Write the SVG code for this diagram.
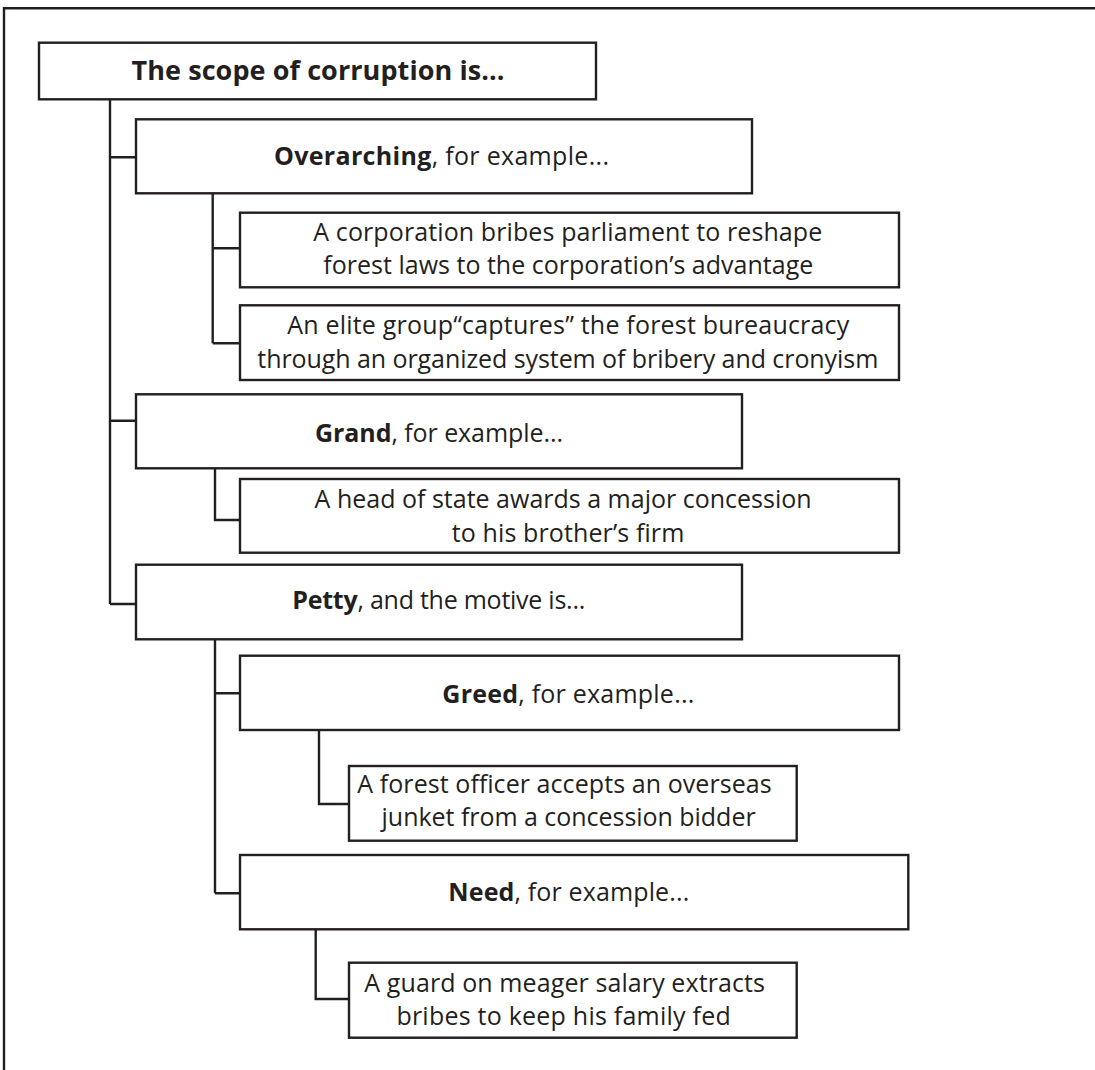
<svg xmlns="http://www.w3.org/2000/svg" width="1095" height="1070" viewBox="0 0 1095 1070">
<style>
.box{fill:#fff;stroke:#231f20;stroke-width:2.4}
.ln{fill:none;stroke:#231f20;stroke-width:2.4}
text{font-family:"Open Sans","Liberation Sans",sans-serif;font-size:25px;fill:#231f20}
.b{font-weight:bold}
.t{font-size:27px;font-weight:bold}
</style>
<rect width="1095" height="1070" fill="#fff"/>
<path class="ln" d="M4,1071 V8.3 H1096"/>
<g id="connectors">
<path class="ln" d="M110,99 V604 M110,157.3 H136 M110,420.7 H136 M110,604 H136"/>
<path class="ln" d="M212.7,193.3 V343.3 M212.7,248.3 H240 M212.7,343.3 H240"/>
<path class="ln" d="M215,468.3 V520 H240"/>
<path class="ln" d="M215,639.3 V893.3 M215,693.3 H240 M215,893.3 H240"/>
<path class="ln" d="M319,730 V804 H349"/>
<path class="ln" d="M315.7,929.3 V999 H349"/>
</g>
<g id="root">
<rect class="box" x="39" y="42.7" width="557" height="56.6"/>
<text class="t" x="131.5" y="80" textLength="373" lengthAdjust="spacing">The scope of corruption is...</text>
</g>
<g id="overarching">
<rect class="box" x="136" y="119.3" width="616" height="74"/>
<text x="274" y="165" textLength="335" lengthAdjust="spacing"><tspan class="b">Overarching</tspan>, for example...</text>
</g>
<g id="corp">
<rect class="box" x="240" y="212.7" width="659" height="74.6"/>
<text x="313.3" y="240.7" textLength="509" lengthAdjust="spacing">A corporation bribes parliament to reshape</text>
<text x="323.3" y="274" textLength="490" lengthAdjust="spacing">forest laws to the corporation’s advantage</text>
</g>
<g id="elite">
<rect class="box" x="240" y="305.3" width="659" height="74.7"/>
<text x="287.3" y="334" textLength="562" lengthAdjust="spacing">An elite group“captures” the forest bureaucracy</text>
<text x="257.3" y="367.7" textLength="621" lengthAdjust="spacing">through an organized system of bribery and cronyism</text>
</g>
<g id="grand">
<rect class="box" x="136" y="394.3" width="606" height="74"/>
<text x="315" y="441.7" textLength="248" lengthAdjust="spacing"><tspan class="b">Grand</tspan>, for example...</text>
</g>
<g id="head">
<rect class="box" x="240" y="479" width="659" height="73.7"/>
<text x="314.6" y="508.3" textLength="497" lengthAdjust="spacing">A head of state awards a major concession</text>
<text x="451.7" y="542.3" textLength="232.6" lengthAdjust="spacing">to his brother’s firm</text>
</g>
<g id="petty">
<rect class="box" x="136" y="564.7" width="606" height="74.6"/>
<text x="292.3" y="609.3" textLength="293" lengthAdjust="spacing"><tspan class="b">Petty</tspan>, and the motive is...</text>
</g>
<g id="greed">
<rect class="box" x="240" y="655.7" width="659" height="74.3"/>
<text x="442.3" y="702.7" textLength="252" lengthAdjust="spacing"><tspan class="b">Greed</tspan>, for example...</text>
</g>
<g id="officer">
<rect class="box" x="349" y="766" width="447.7" height="74.7"/>
<text x="357.3" y="793.3" textLength="414.4" lengthAdjust="spacing">A forest officer accepts an overseas</text>
<text x="381.6" y="826" textLength="374" lengthAdjust="spacing">junket from a concession bidder</text>
</g>
<g id="need">
<rect class="box" x="240" y="855" width="668.3" height="74.3"/>
<text x="448.3" y="901" textLength="241" lengthAdjust="spacing"><tspan class="b">Need</tspan>, for example...</text>
</g>
<g id="guard">
<rect class="box" x="349" y="962.7" width="447.7" height="75"/>
<text x="364.3" y="991.7" textLength="400.7" lengthAdjust="spacing">A guard on meager salary extracts</text>
<text x="396.4" y="1025" textLength="334.3" lengthAdjust="spacing">bribes to keep his family fed</text>
</g>
</svg>
